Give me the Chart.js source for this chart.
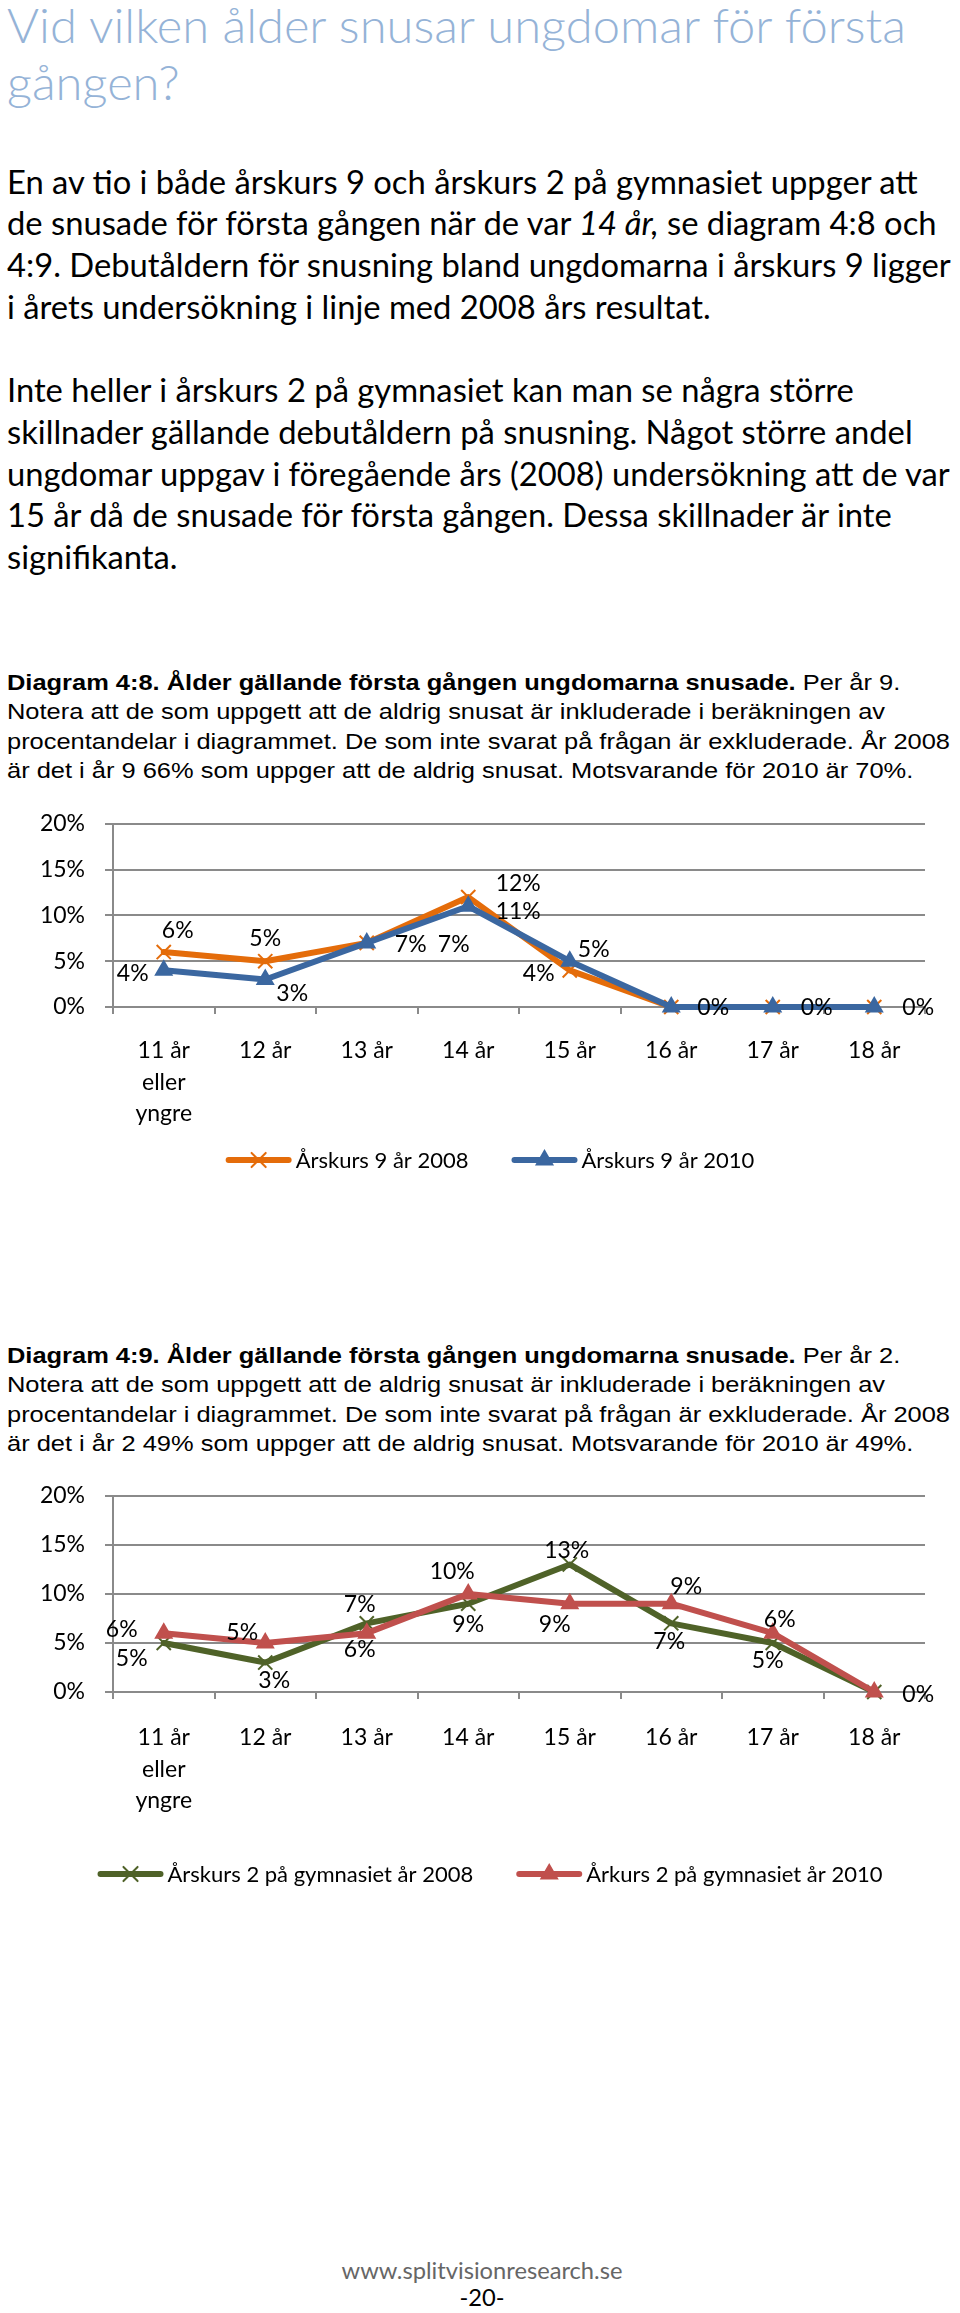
<!DOCTYPE html>
<html><head><meta charset="utf-8">
<script src="https://cdn.jsdelivr.net/npm/chart.js@4.4.1/dist/chart.umd.min.js"></script>
<style>
html,body{margin:0;padding:0;background:#fff;}
body{width:960px;height:2313px;position:relative;overflow:hidden;font-family:Lato,"Noto Sans",sans-serif;}
.ln{position:absolute;left:7px;white-space:nowrap;line-height:1.2;transform-origin:0 0;}
.title{color:#95B3D7;font-weight:300;font-family:Lato,"Noto Sans",sans-serif;}
.body{color:#000;font-family:Lato,"Noto Sans",sans-serif;}
.cap{color:#000;font-family:"Liberation Sans",Arial,sans-serif;}
.foot{position:absolute;white-space:nowrap;line-height:1.2;font-family:Lato,"Noto Sans",sans-serif;}
canvas{position:absolute;left:0;}
</style></head>
<body>
<div class="ln title" data-b="43">Vid vilken ålder snusar ungdomar för första</div>
<div class="ln title" data-b="100">gången?</div>

<div class="ln body" data-b="194">En av tio i både årskurs 9 och årskurs 2 på gymnasiet uppger att</div>
<div class="ln body" data-b="235.7">de snusade för första gången när de var <i>14 år,</i> se diagram 4:8 och</div>
<div class="ln body" data-b="277.4">4:9. Debutåldern för snusning bland ungdomarna i årskurs 9 ligger</div>
<div class="ln body" data-b="319">i årets undersökning i linje med 2008 års resultat.</div>
<div class="ln body" data-b="402.5">Inte heller i årskurs 2 på gymnasiet kan man se några större</div>
<div class="ln body" data-b="444">skillnader gällande debutåldern på snusning. Något större andel</div>
<div class="ln body" data-b="486">ungdomar uppgav i föregående års (2008) undersökning att de var</div>
<div class="ln body" data-b="527.6">15 år då de snusade för första gången. Dessa skillnader är inte</div>
<div class="ln body" data-b="569.3">signifikanta.</div>

<div class="ln cap" data-b="690"><b>Diagram 4:8. Ålder gällande första gången ungdomarna snusade.</b> Per år 9.</div>
<div class="ln cap" data-b="719.5">Notera att de som uppgett att de aldrig snusat är inkluderade i beräkningen av</div>
<div class="ln cap" data-b="749">procentandelar i diagrammet. De som inte svarat på frågan är exkluderade. År 2008</div>
<div class="ln cap" data-b="778">är det i år 9 66% som uppger att de aldrig snusat. Motsvarande för 2010 är 70%.</div>

<canvas id="c1" width="960" height="410" style="top:790px"></canvas>

<div class="ln cap" data-b="1363"><b>Diagram 4:9. Ålder gällande första gången ungdomarna snusade.</b> Per år 2.</div>
<div class="ln cap" data-b="1392.5">Notera att de som uppgett att de aldrig snusat är inkluderade i beräkningen av</div>
<div class="ln cap" data-b="1422">procentandelar i diagrammet. De som inte svarat på frågan är exkluderade. År 2008</div>
<div class="ln cap" data-b="1451">är det i år 2 49% som uppger att de aldrig snusat. Motsvarande för 2010 är 49%.</div>

<canvas id="c2" width="960" height="460" style="top:1462px"></canvas>

<div class="foot" id="f1" style="color:#666" data-b="2279" data-cx="482">www.splitvisionresearch.se</div>
<div class="foot" id="f2" style="color:#000" data-b="2306" data-cx="482">-20-</div>

<script>
// ---------- DATA ----------
const categories = [['11 år','eller','yngre'],'12 år','13 år','14 år','15 år','16 år','17 år','18 år'];
const yTickLabels = ['0%','5%','10%','15%','20%'];
const yTickValues = [0,5,10,15,20];

const seriesNames1 = ['Årskurs 9 år 2008','Årskurs 9 år 2010'];
const ak9_2008 = [6,5,7,12,4,0,0,0];
const ak9_2010 = [4,3,7,11,5,0,0,0];

const seriesNames2 = ['Årskurs 2 på gymnasiet år 2008','Årkurs 2 på gymnasiet år 2010'];
const gy2_2008 = [5,3,7,9,13,7,5,0];
const gy2_2010 = [6,5,6,10,9,9,6,0];

// ---------- STYLE ----------
const FONT = 'Lato, "Noto Sans", sans-serif';
const GRID = '#8a8a8a';
const TXT = 23;
const LEG = 22;

// data-label placement relative to each point (style only)
const lblPos1 = [
  [[14,-21],[0,-23],[44,2],[50,-14],[-31,3],null,null,null],
  [[-31,3],[27,14],[87,2],[50,5],[24,-12],[42,1],[44,1],[44,1]]
];
const lblPos2 = [
  [[-32,16],[9,18],[-7,-19],[0,21],[-3,-14],[-2,18],[-5,18],[44,3]],
  [[-42,-4],[-23,-10],[-7,16],[-16,-22],[-15,21],[15,-17],[7,-14],null]
];

// ---------- TEXT LAYOUT ----------
// size: fixed font size (null = fit by size); otherwise fit width by horizontal scaling
function fitGroup(sel, refIdx, target, baseK, size){
  const els=[...document.querySelectorAll(sel)];
  const ref=els[refIdx];
  let sx=1;
  if(size){
    ref.style.fontSize=size+'px';
    sx=target/ref.getBoundingClientRect().width;
  } else {
    ref.style.fontSize='100px';
    size=100*target/ref.getBoundingClientRect().width;
  }
  els.forEach(e=>{
    e.style.fontSize=size+'px';
    e.style.transform='scaleX('+sx+')';
    const b=parseFloat(e.dataset.b);
    e.style.top=(b-baseK*size)+'px';
  });
}
function layoutText(){
  fitGroup('.title',0,899,0.987,47);
  fitGroup('.body',6,943,0.987,null);
  fitGroup('.cap',2,943,0.9465,22.5);
  const f1=document.getElementById('f1'), f2=document.getElementById('f2');
  f1.style.fontSize='100px';
  const s=100*281/f1.getBoundingClientRect().width;
  [f1,f2].forEach(e=>{
    e.style.fontSize=s+'px';
    e.style.top=(parseFloat(e.dataset.b)-0.987*s)+'px';
    const w=e.getBoundingClientRect().width;
    e.style.left=(parseFloat(e.dataset.cx)-w/2)+'px';
  });
}
layoutText();

// ---------- PLUGINS ----------
function drawMarker(ctx, style, r, x, y, color, bw){
  ctx.save();
  ctx.fillStyle=color; ctx.strokeStyle=color; ctx.lineWidth=bw;
  if (Chart.helpers && Chart.helpers.drawPoint){
    Chart.helpers.drawPoint(ctx,{pointStyle:style,radius:r,borderWidth:bw,rotation:0},x,y);
  }
  ctx.restore();
}
function makeLabelPlugin(pos){
  return {id:'dataLabels', afterDatasetsDraw(chart){
    const ctx=chart.ctx; ctx.save();
    ctx.font=TXT+'px '+FONT; ctx.fillStyle='#000';
    ctx.textAlign='center'; ctx.textBaseline='middle';
    chart.data.datasets.forEach((ds,i)=>{
      chart.getDatasetMeta(i).data.forEach((pt,j)=>{
        const o=pos[i][j]; if(!o) return;
        ctx.fillText(ds.data[j]+'%', pt.x+o[0], pt.y+o[1]);
      });
    });
    ctx.restore();
  }};
}
function makeLegendPlugin(y, cx){
  const sample=66, gap=4, itemGap=43;
  return {id:'legendRow', afterDraw(chart){
    const ctx=chart.ctx; ctx.save();
    ctx.font=LEG+'px '+FONT;
    const items=chart.data.datasets.map(ds=>({ds,w:ctx.measureText(ds.label).width}));
    const total=items.reduce((s,it)=>s+sample+gap+it.w,0)+itemGap*(items.length-1);
    let x=cx-total/2;
    items.forEach(it=>{
      const ds=it.ds;
      ctx.strokeStyle=ds.borderColor; ctx.lineWidth=ds.borderWidth; ctx.lineCap='round';
      ctx.beginPath(); ctx.moveTo(x+3,y); ctx.lineTo(x+sample-3,y); ctx.stroke();
      drawMarker(ctx, ds.pointStyle, ds.pointRadius, x+sample/2, y, ds.pointBorderColor, ds.pointBorderWidth);
      ctx.fillStyle='#000'; ctx.textAlign='left'; ctx.textBaseline='middle';
      ctx.fillText(ds.label, x+sample+gap, y+1);
      x+=sample+gap+it.w+itemGap;
    });
    ctx.restore();
  }};
}

function ds(label, data, color, style, radius, order){
  return {label, data, borderColor:color, backgroundColor:color,
    pointBackgroundColor:color, pointBorderColor:color,
    borderWidth:6, pointStyle:style, pointRadius:radius, pointBorderWidth:2,
    pointHoverRadius:radius, borderCapStyle:'round', borderJoinStyle:'round',
    tension:0, clip:false, order};
}

function makeChart(id, names, d1, d2, c1, c2, xHeight, xPad, pos, legY){
  return new Chart(document.getElementById(id), {
    type:'line',
    data:{labels:categories, datasets:[
      ds(names[0], d1, c1, 'crossRot', 10, 1),
      ds(names[1], d2, c2, 'triangle', 9, 0)
    ]},
    options:{
      responsive:false, animation:false, devicePixelRatio:1,
      layout:{padding:{left:0,right:35,top:30,bottom:0}},
      plugins:{legend:{display:false}, tooltip:{enabled:false}},
      scales:{
        x:{type:'category', offset:true,
          grid:{display:true, offset:true, drawOnChartArea:false, drawTicks:true, tickLength:7, color:GRID, lineWidth:2},
          border:{display:true, color:GRID, width:2},
          ticks:{font:{family:FONT,size:TXT,lineHeight:'31.5px'}, color:'#000', padding:xPad, maxRotation:0, minRotation:0, autoSkip:false},
          afterFit(s){ s.height=xHeight; }
        },
        y:{min:0, max:20,
          afterBuildTicks(s){ s.ticks=yTickValues.map(v=>({value:v})); },
          ticks:{callback:(v)=>yTickLabels[yTickValues.indexOf(v)], font:{family:FONT,size:TXT}, color:'#000', padding:20},
          grid:{color:GRID, lineWidth:2, tickLength:8},
          border:{display:true, color:GRID, width:2},
          afterFit(s){ s.width=113; }
        }
      }
    },
    plugins:[makeLabelPlugin(pos), makeLegendPlugin(legY, 490)]
  });
}

makeChart('c1', seriesNames1, ak9_2008, ak9_2010, '#E46C0A', '#3B67A0', 193, 21, lblPos1, 370);
makeChart('c2', seriesNames2, gy2_2008, gy2_2010, '#4F6228', '#C0504D', 230, 23, lblPos2, 412);
</script>
</body></html>
